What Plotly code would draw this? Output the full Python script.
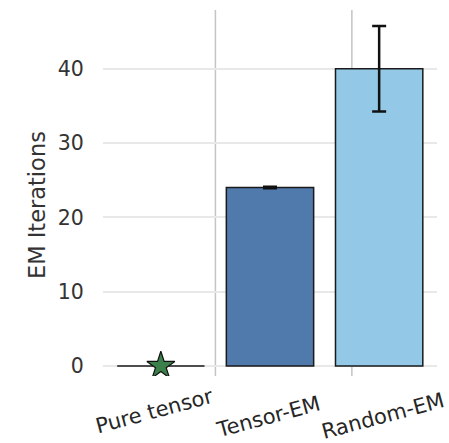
import plotly.graph_objects as go

categories = ["Pure tensor", "Tensor-EM", "Random-EM"]
iterations = [0, 24, 40]
errors = [0, 0.1, 5.75]
bar_colors = ["#ffffff", "#5079ac", "#93c8e6"]
yticks = [0, 10, 20, 30, 40]
vline_positions = [0.5, 1.75]
label_xshift = [-6, -2, 4]
label_yshift = [-35, -41, -40]
y_title = "EM Iterations"

xpos = list(range(len(categories)))

fig = go.Figure()
fig.add_trace(go.Bar(
    x=xpos[1:], y=iterations[1:], width=0.8,
    marker=dict(color=bar_colors[1:], line=dict(color="#1a1a1a", width=1.5)),
    error_y=dict(type="data", array=errors[1:], color="#111111", thickness=2.5, width=7),
    showlegend=False,
))
# zero-height bar for Pure tensor drawn as its outline
fig.add_trace(go.Scatter(
    x=[xpos[0] - 0.4, xpos[0] + 0.4], y=[iterations[0], iterations[0]],
    mode="lines", line=dict(color="#1a1a1a", width=1.5), showlegend=False,
))
fig.add_trace(go.Scatter(
    x=[xpos[0]], y=[iterations[0]], mode="markers",
    marker=dict(symbol="star", size=21, color="#3b7f4a", line=dict(color="#111111", width=1.2)),
    showlegend=False,
))

for v in vline_positions:
    fig.add_shape(type="line", xref="x", yref="paper", x0=v, x1=v, y0=0, y1=1,
                  line=dict(color="#c4c4c4", width=1.5), layer="below")

for xp, name, dx, dy in zip(xpos, categories, label_xshift, label_yshift):
    fig.add_annotation(x=xp, y=0, xref="x", yref="paper", text=name, showarrow=False,
                       textangle=-15, xanchor="center", yanchor="middle",
                       xshift=dx, yshift=dy,
                       font=dict(family="DejaVu Sans", size=21, color="#262626"))

fig.add_annotation(x=0, y=0.467, xref="paper", yref="paper", text=y_title, showarrow=False,
                   textangle=-90, xanchor="center", yanchor="middle", xshift=-66,
                   font=dict(family="DejaVu Sans", size=22.5, color="#333333"))

fig.update_layout(
    width=449, height=443,
    margin=dict(l=103, r=12, t=10, b=67),
    plot_bgcolor="white", paper_bgcolor="white",
    font=dict(family="DejaVu Sans", size=20, color="#333333"),
)
fig.update_xaxes(
    range=[-0.53, 2.53], tickvals=xpos, showticklabels=False,
    showgrid=False, zeroline=False, showline=False,
)
fig.update_yaxes(
    range=[-1.35, 47.9], tickvals=yticks,
    showgrid=True, gridcolor="#e8e8e8", gridwidth=1.5, zeroline=False, showline=False,
    ticks="outside", ticklen=14, tickcolor="rgba(0,0,0,0)",
    tickfont=dict(size=20.5, color="#333333"),
)

fig.write_html("out.html")
